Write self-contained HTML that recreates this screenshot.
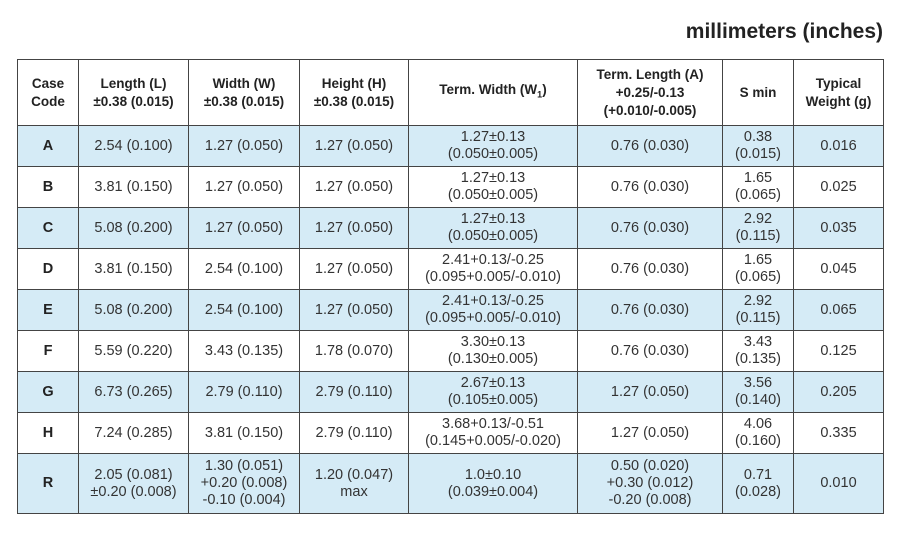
<!DOCTYPE html>
<html><head><meta charset="utf-8"><style>
body{margin:0;width:900px;height:533px;background:#fff;font-family:"Liberation Sans",Arial,sans-serif;color:#333;position:relative;overflow:hidden}
.t{position:absolute;right:17px;top:20px;font-size:21px;font-weight:bold;color:#222}
table{position:absolute;left:17px;top:59px;border-collapse:collapse;table-layout:fixed;width:866px}
td,th{border:1.5px solid #444;text-align:center;vertical-align:middle;padding:0;font-size:14.5px;line-height:17px;white-space:nowrap}
th{font-size:13.5px;font-weight:bold;color:#222;line-height:18px;height:65px}
tr.r td{height:40px}
tr.b td{background:#d5ebf6}
td:first-child{font-weight:bold;color:#222}
</style></head><body>
<div class="t">millimeters (inches)</div>
<table>
<colgroup><col style="width:61px"><col style="width:110px"><col style="width:111px"><col style="width:109px"><col style="width:169px"><col style="width:145px"><col style="width:71px"><col style="width:90px"></colgroup>
<tr><th>Case<br>Code</th><th>Length (L)<br>±0.38 (0.015)</th><th>Width (W)<br>±0.38 (0.015)</th><th>Height (H)<br>±0.38 (0.015)</th><th>Term. Width (W<sub style="font-size:9px">1</sub>)</th><th>Term. Length (A)<br>+0.25/-0.13<br>(+0.010/-0.005)</th><th>S min</th><th>Typical<br>Weight (g)</th></tr>
<tr class="r b"><td>A</td><td>2.54 (0.100)</td><td>1.27 (0.050)</td><td>1.27 (0.050)</td><td>1.27±0.13<br>(0.050±0.005)</td><td>0.76 (0.030)</td><td>0.38<br>(0.015)</td><td>0.016</td></tr>
<tr class="r"><td>B</td><td>3.81 (0.150)</td><td>1.27 (0.050)</td><td>1.27 (0.050)</td><td>1.27±0.13<br>(0.050±0.005)</td><td>0.76 (0.030)</td><td>1.65<br>(0.065)</td><td>0.025</td></tr>
<tr class="r b"><td>C</td><td>5.08 (0.200)</td><td>1.27 (0.050)</td><td>1.27 (0.050)</td><td>1.27±0.13<br>(0.050±0.005)</td><td>0.76 (0.030)</td><td>2.92<br>(0.115)</td><td>0.035</td></tr>
<tr class="r"><td>D</td><td>3.81 (0.150)</td><td>2.54 (0.100)</td><td>1.27 (0.050)</td><td>2.41+0.13/-0.25<br>(0.095+0.005/-0.010)</td><td>0.76 (0.030)</td><td>1.65<br>(0.065)</td><td>0.045</td></tr>
<tr class="r b"><td>E</td><td>5.08 (0.200)</td><td>2.54 (0.100)</td><td>1.27 (0.050)</td><td>2.41+0.13/-0.25<br>(0.095+0.005/-0.010)</td><td>0.76 (0.030)</td><td>2.92<br>(0.115)</td><td>0.065</td></tr>
<tr class="r"><td>F</td><td>5.59 (0.220)</td><td>3.43 (0.135)</td><td>1.78 (0.070)</td><td>3.30±0.13<br>(0.130±0.005)</td><td>0.76 (0.030)</td><td>3.43<br>(0.135)</td><td>0.125</td></tr>
<tr class="r b"><td>G</td><td>6.73 (0.265)</td><td>2.79 (0.110)</td><td>2.79 (0.110)</td><td>2.67±0.13<br>(0.105±0.005)</td><td>1.27 (0.050)</td><td>3.56<br>(0.140)</td><td>0.205</td></tr>
<tr class="r"><td>H</td><td>7.24 (0.285)</td><td>3.81 (0.150)</td><td>2.79 (0.110)</td><td>3.68+0.13/-0.51<br>(0.145+0.005/-0.020)</td><td>1.27 (0.050)</td><td>4.06<br>(0.160)</td><td>0.335</td></tr>
<tr class="b"><td style="height:59px">R</td><td>2.05 (0.081)<br>±0.20 (0.008)</td><td>1.30 (0.051)<br>+0.20 (0.008)<br>-0.10 (0.004)</td><td>1.20 (0.047)<br>max</td><td>1.0±0.10<br>(0.039±0.004)</td><td>0.50 (0.020)<br>+0.30 (0.012)<br>-0.20 (0.008)</td><td>0.71<br>(0.028)</td><td>0.010</td></tr>
</table>
</body></html>
